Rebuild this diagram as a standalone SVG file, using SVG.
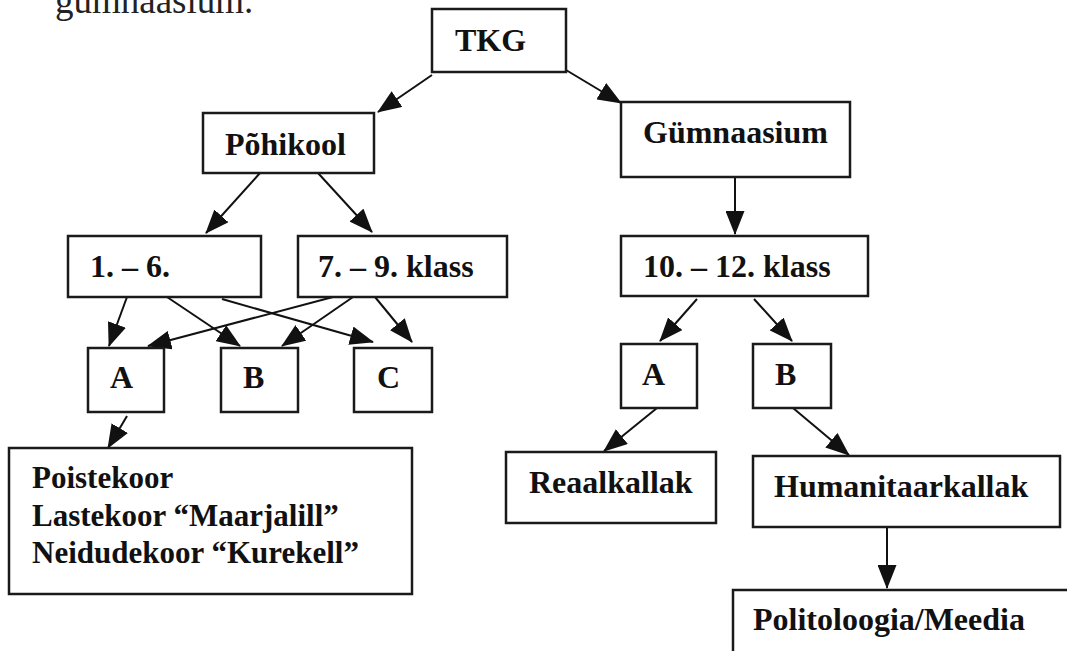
<svg xmlns="http://www.w3.org/2000/svg" width="1067" height="651" viewBox="0 0 1067 651">
<style>
.box{fill:#fff;stroke:#1a1a1a;stroke-width:2.5}
.t{font-family:"Liberation Serif","Times New Roman",serif;font-weight:bold;font-size:32px;fill:#111}
.s{font-size:31px}
</style>
<defs>
<marker id="big" viewBox="0 0 24 19" refX="23" refY="9.5" markerWidth="24" markerHeight="19" markerUnits="userSpaceOnUse" orient="auto">
<path d="M0,0 L24,9.5 L0,19 z" fill="#111"/>
</marker>
</defs>
<rect width="1067" height="651" fill="#fff"/>
<text x="55" y="13" style="font-family:'Liberation Serif','Times New Roman',serif;font-size:37px;fill:#222">gümnaasium.</text>
<g id="connectors" stroke="#111" stroke-width="2" fill="none">
<g marker-end="url(#big)">
<line x1="432" y1="75" x2="378" y2="112"/>
<line x1="566" y1="70" x2="621" y2="103"/>
<line x1="260" y1="173" x2="206" y2="233"/>
<line x1="318" y1="173" x2="372" y2="232"/>
<line x1="735" y1="177" x2="735" y2="234"/>
<line x1="127" y1="297" x2="109" y2="346"/>
<line x1="167" y1="297" x2="240" y2="346"/>
<line x1="222" y1="299" x2="373" y2="342"/>
<line x1="333" y1="297" x2="148" y2="346"/>
<line x1="353" y1="297" x2="282" y2="346"/>
<line x1="375" y1="297" x2="412" y2="342"/>
<line x1="127" y1="416" x2="108" y2="448"/>
<line x1="697" y1="299" x2="660" y2="341"/>
<line x1="754" y1="299" x2="792" y2="341"/>
<line x1="657" y1="408" x2="604" y2="451"/>
<line x1="793" y1="408" x2="849" y2="455"/>
<line x1="887" y1="527" x2="887" y2="588"/>
</g>
</g>
<g id="tkg"><rect class="box" x="432" y="9" width="134" height="63"/><text class="t" x="455" y="51">TKG</text></g>
<g id="pohikool"><rect class="box" x="203" y="113" width="171" height="60"/><text class="t" x="225" y="155">Põhikool</text></g>
<g id="gymnaasium"><rect class="box" x="621" y="102" width="229" height="75"/><text class="t" x="643" y="143">Gümnaasium</text></g>
<g id="k1-6"><rect class="box" x="68" y="236" width="193" height="61"/><text class="t" x="90" y="277">1. – 6.</text></g>
<g id="k7-9"><rect class="box" x="298" y="236" width="209" height="61"/><text class="t" x="318" y="277">7. – 9. klass</text></g>
<g id="k10-12"><rect class="box" x="621" y="236" width="247" height="60"/><text class="t" x="643" y="277">10. – 12. klass</text></g>
<g id="a-left"><rect class="box" x="88" y="348" width="76" height="64"/><text class="t" x="110" y="388">A</text></g>
<g id="b-left"><rect class="box" x="221" y="348" width="77" height="64"/><text class="t" x="243" y="388">B</text></g>
<g id="c-left"><rect class="box" x="354" y="348" width="78" height="64"/><text class="t" x="377" y="388">C</text></g>
<g id="a-right"><rect class="box" x="621" y="344" width="76" height="64"/><text class="t" x="642" y="385">A</text></g>
<g id="b-right"><rect class="box" x="753" y="344" width="78" height="64"/><text class="t" x="775" y="385">B</text></g>
<g id="koorid"><rect class="box" x="9" y="448" width="403" height="146"/>
<text class="t s" x="32" y="488">Poistekoor</text>
<text class="t s" x="32" y="526">Lastekoor “Maarjalill”</text>
<text class="t s" x="32" y="563">Neidudekoor “Kurekell”</text></g>
<g id="reaalkallak"><rect class="box" x="506" y="452" width="210" height="71"/><text class="t" x="529" y="493">Reaalkallak</text></g>
<g id="humanitaarkallak"><rect class="box" x="753" y="456" width="307" height="71"/><text class="t" x="774" y="497">Humanitaarkallak</text></g>
<g id="politoloogia"><rect class="box" x="733" y="590" width="360" height="80"/><text class="t" x="753" y="630">Politoloogia/Meedia</text></g>
</svg>
